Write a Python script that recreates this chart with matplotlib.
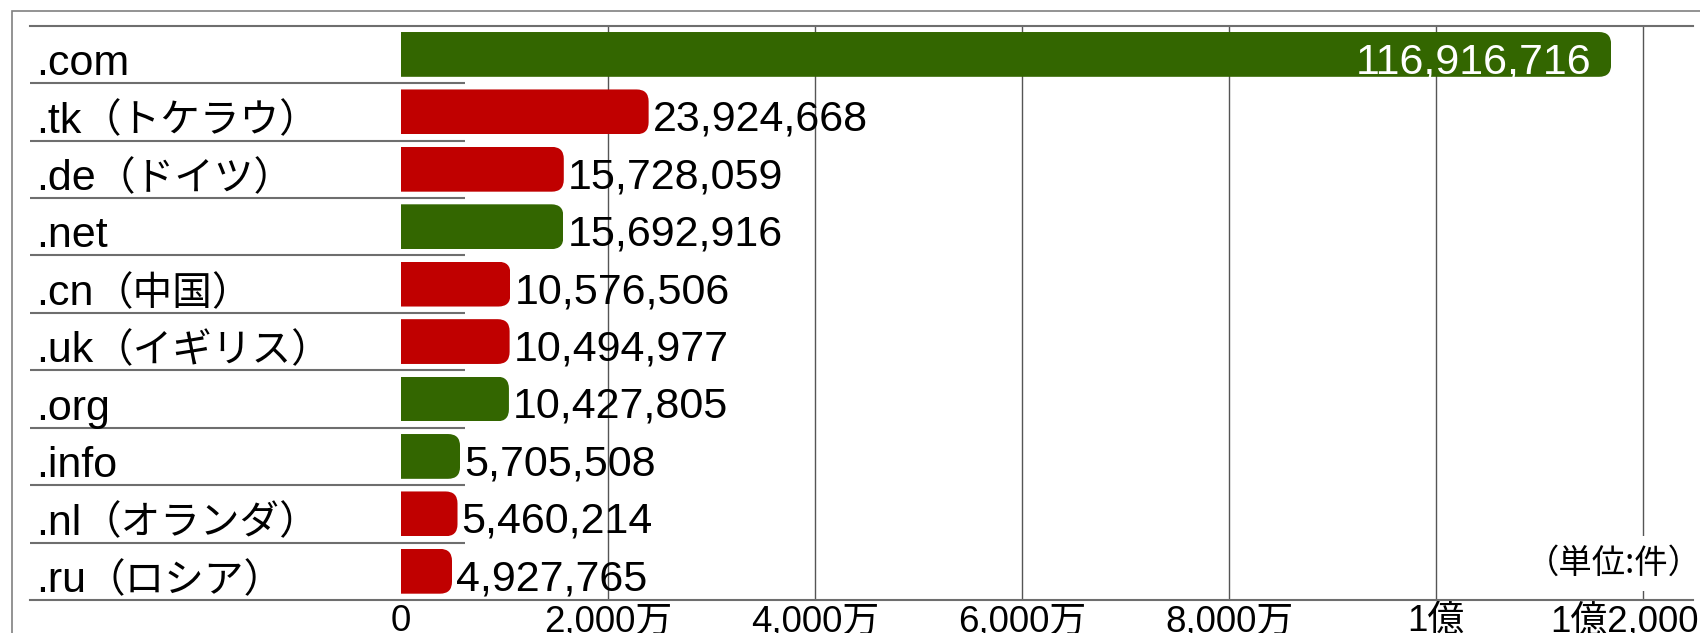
import matplotlib
matplotlib.use("Agg")
import matplotlib.pyplot as plt
from matplotlib.patches import FancyBboxPatch, Rectangle
import numpy as np

# ---------------- data ----------------
domains = [".com", ".tk", ".de", ".net", ".cn", ".uk", ".org", ".info", ".nl", ".ru"]
countries = ["", "（トケラウ）", "（ドイツ）", "", "（中国）", "（イギリス）", "", "", "（オランダ）", "（ロシア）"]
values = np.array([116916716, 23924668, 15728059, 15692916, 10576506,
                   10494977, 10427805, 5705508, 5460214, 4927765])
kinds = ["g", "cc", "cc", "g", "cc", "cc", "g", "g", "cc", "cc"]
tick_values = [0, 20000000, 40000000, 60000000, 80000000, 100000000, 120000000]
tick_labels = ["0", "2,000万", "4,000万", "6,000万", "8,000万", "1億", "1億2,000万"]
unit_text = "（単位:件）"

kind_colors = {"g": "#336600", "cc": "#C00000"}
colors = [kind_colors[k] for k in kinds]

# ---------------- layout ----------------
W, H = 1700, 633
fig = plt.figure(figsize=(W / 100, H / 100), dpi=100)
ax_left_px, ax_right_px, ax_top_px, ax_bot_px = 30, 1693, 25.7, 600
ax = fig.add_axes([ax_left_px / W, 1 - ax_bot_px / H,
                   (ax_right_px - ax_left_px) / W, (ax_bot_px - ax_top_px) / H])

zero_px = 401
px_per_unit = 207 / 20e6
xmin = -(zero_px - ax_left_px) / px_per_unit
xmax = (ax_right_px - zero_px) / px_per_unit
n = len(values)
ax.set_xlim(xmin, xmax)
ax.set_ylim(n - 0.5, -0.5)

LINE = "#6e6e6e"
for s in ["left", "right"]:
    ax.spines[s].set_visible(False)
for s in ["top", "bottom"]:
    ax.spines[s].set_color(LINE)
    ax.spines[s].set_linewidth(1.5)

ax.set_yticks([])
ax.set_xticks(tick_values, tick_labels)
ax.tick_params(axis="x", length=0, pad=3, labelsize=26.5, labelcolor="black")
for lbl in ax.get_xticklabels():
    lbl.set_fontfamily(["Liberation Sans", "Noto Sans CJK JP"])

# vertical grid lines (not at zero)
ax.vlines(tick_values[1:], -0.5, n - 0.5, color="#555555", lw=1.0, zorder=1)

# row separators under the labels
sep_end = (465 - zero_px) / px_per_unit
ax.hlines(np.arange(n - 1) + 0.5, xmin, sep_end, color=LINE, lw=1.5, zorder=1)

# bars, clipped to a shape with rounded right end
y = np.arange(n)
bar_h = 0.78
row_px = (ax_bot_px - ax_top_px) / n
r_px = 12
r_data = r_px / px_per_unit
asp = (r_px / row_px) / r_data
bars = ax.barh(y, values, height=bar_h, color=colors, zorder=2, lw=0)
for bar, yi, v in zip(bars, y, values):
    clip = FancyBboxPatch((-3 * r_data, yi - bar_h / 2), v + 3 * r_data, bar_h,
                          boxstyle=f"round,pad=0,rounding_size={r_data}",
                          mutation_aspect=asp, transform=ax.transData)
    bar.set_clip_path(clip)

# value labels
vmax = values.max()
for yi, v in zip(y, values):
    if v == vmax:
        ax.annotate(f"{v:,}", xy=(v, yi + 0.33), xytext=(-14, 0), textcoords="offset points",
                    ha="right", va="baseline", color="white", fontsize=31,
                    family="Liberation Sans", zorder=4)
    else:
        ax.annotate(f"{v:,}", xy=(v, yi + 0.33), xytext=(3, 0), textcoords="offset points",
                    ha="left", va="baseline", color="black", fontsize=31,
                    family="Liberation Sans", zorder=4)

# category labels
for yi, dom, jp in zip(y, domains, countries):
    t1 = ax.annotate(dom, xy=(0, yi + 0.36), xycoords=("axes fraction", "data"),
                     xytext=(4.3, 0), textcoords="offset points",
                     ha="left", va="baseline", fontsize=31, family="Liberation Sans")
    if jp:
        ax.annotate(jp, xy=(1, yi + 0.36), xycoords=(t1, "data"),
                    ha="left", va="baseline", fontsize=28.5, family="Noto Sans CJK JP")

# unit note
ax.text((1702 - ax_left_px) / (ax_right_px - ax_left_px),
        (ax_bot_px - 563) / (ax_bot_px - ax_top_px), unit_text,
        transform=ax.transAxes, ha="right", va="center", fontsize=24,
        family=["Noto Sans CJK JP", "DejaVu Sans"], zorder=5,
        bbox=dict(boxstyle="square,pad=0.3", fc="white", ec="none"))

# outer frame
fig.add_artist(Rectangle((11.5 / W, -0.5), 2, 1 - 11 / H + 0.5, transform=fig.transFigure,
                         fill=False, ec="#808080", lw=1.2))

fig.savefig("out.png", dpi=100)
